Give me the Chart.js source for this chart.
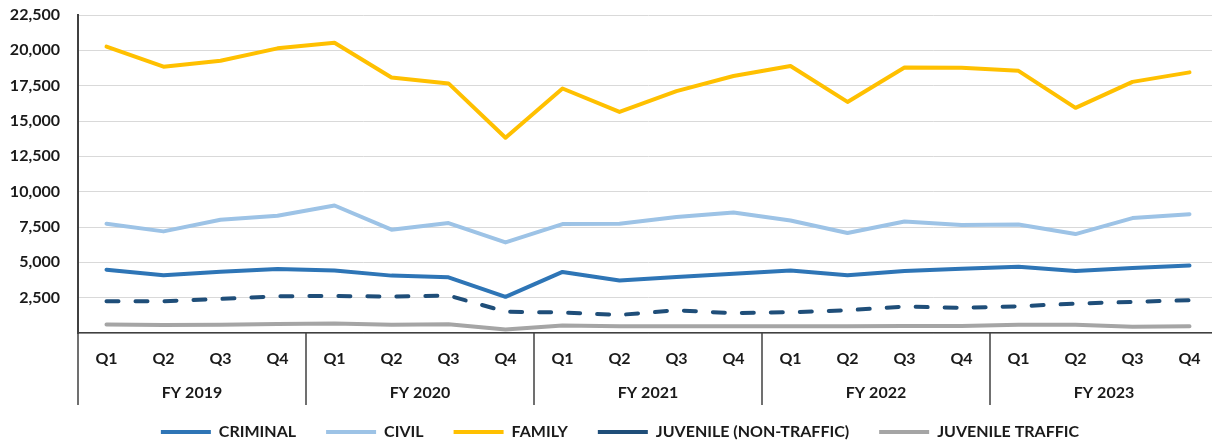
<!DOCTYPE html>
<html>
<head>
<meta charset="utf-8">
<script src="https://cdn.jsdelivr.net/npm/chart.js@4.4.0/dist/chart.umd.min.js"></script>
<style>
  html, body { margin: 0; padding: 0; background: #fff; overflow: hidden; }
  #wrap { position: relative; width: 1240px; height: 444px; }
</style>
</head>
<body>
<div id="wrap"><canvas id="my-chart"></canvas></div>
<script>
const quarters = ['Q1', 'Q2', 'Q3', 'Q4'];
const fiscalYears = ['FY 2019', 'FY 2020', 'FY 2021', 'FY 2022', 'FY 2023'];

const criminal = [4480, 4080, 4340, 4530, 4430, 4060, 3940, 2560, 4320, 3710, 3970, 4200, 4430, 4080, 4390, 4550, 4690, 4390, 4600, 4770];
const civil = [7730, 7190, 8010, 8300, 9020, 7310, 7780, 6410, 7710, 7730, 8200, 8530, 7960, 7070, 7890, 7640, 7680, 7000, 8130, 8410];
const family = [20260, 18840, 19260, 20140, 20540, 18080, 17660, 13820, 17300, 15640, 17110, 18180, 18890, 16350, 18790, 18770, 18550, 15930, 17770, 18440];
const juvenileNonTraffic = [2250, 2250, 2410, 2600, 2620, 2580, 2650, 1510, 1450, 1280, 1610, 1400, 1470, 1610, 1870, 1780, 1890, 2080, 2200, 2320];
const juvenileTraffic = [600, 560, 580, 640, 680, 580, 620, 250, 530, 480, 480, 480, 480, 480, 500, 500, 580, 580, 440, 480];

// one Q1..Q4 run per fiscal year
const quarterLabels = [];
fiscalYears.forEach(() => quarterLabels.push(...quarters));

// vertical dividers between fiscal years, running through both label rows
const yearDividers = {
   id: 'yearDividers',
   afterDraw(chart) {
      const x = chart.scales.x;
      const x2 = chart.scales.x2;
      const step = x.getPixelForValue(1) - x.getPixelForValue(0);
      const ctx = chart.ctx;
      ctx.save();
      ctx.strokeStyle = '#404040';
      ctx.lineWidth = 1.5;
      for (let i = 0; i <= quarterLabels.length; i += quarters.length) {
         const px = Math.round(x.getPixelForValue(0) - step / 2 + i * step);
         ctx.beginPath();
         ctx.moveTo(px, x.top);
         ctx.lineTo(px, x2.bottom);
         ctx.stroke();
      }
      ctx.restore();
   }
};

// keep the legend short so the plot gets the height, then nudge it up/right
const legendSpot = {
   id: 'legendSpot',
   afterInit(chart) {
      const legend = chart.legend;
      const fit = legend.fit;
      legend.fit = function () {
         fit.call(this);
         this.height = 39;
      };
   },
   afterLayout(chart) {
      const legend = chart.legend;
      legend.top -= 11;
      legend.left += 11;
      legend.right += 11;
   }
};

function line(label, data, color, dash) {
   return {
      label: label,
      data: data,
      borderColor: color,
      backgroundColor: color,
      borderWidth: 4,
      borderDash: dash || [],
      borderCapStyle: 'round',
      borderJoinStyle: 'round',
      pointRadius: 0,
      pointHoverRadius: 0,
      tension: 0,
      fill: false
   };
}

function printTheChart() {
   Chart.defaults.font.family = 'Lato';
   Chart.defaults.font.size = 16;
   Chart.defaults.font.weight = 'bold';
   Chart.defaults.color = '#1a1a1a';

   const ctx = document.getElementById('my-chart').getContext('2d');

   const chart = new Chart(ctx, {
      type: 'line',
      data: {
         labels: quarterLabels,
         datasets: [
            line('CRIMINAL', criminal, '#2e75b6'),
            line('CIVIL', civil, '#9dc3e6'),
            line('FAMILY', family, '#ffc000'),
            line('JUVENILE (NON-TRAFFIC)', juvenileNonTraffic, '#1f4e79', [12, 17]),
            line('JUVENILE TRAFFIC', juvenileTraffic, '#a5a5a5')
         ]
      },
      options: {
         responsive: true,
         maintainAspectRatio: false,
         animation: false,
         layout: { padding: { top: 15, left: 0, right: 22, bottom: 0 } },
         plugins: {
            tooltip: { enabled: false },
            legend: {
               position: 'bottom',
               labels: {
                  usePointStyle: true,
                  pointStyle: 'line',
                  pointStyleWidth: 50,
                  padding: 30,
                  font: { size: 16, weight: 'bold' }
               }
            }
         },
         scales: {
            y: {
               min: 0,
               max: 22500,
               ticks: {
                  stepSize: 2500,
                  padding: 18,
                  callback: v => v === 0 ? '' : v.toLocaleString('en-US')
               },
               grid: { color: '#d9d9d9', drawTicks: false },
               border: { color: '#404040', width: 2 },
               afterFit: s => {
                  s.width = 78;
                  s.paddingTop = 0;
                  s.paddingBottom = 0;
               }
            },
            x: {
               type: 'category',
               labels: quarterLabels,
               offset: true,
               grid: { display: false, drawTicks: false },
               border: { color: '#404040', width: 1.5 },
               ticks: { padding: 16, maxRotation: 0, autoSkip: false },
               afterFit: s => { s.height = 35; }
            },
            x2: {
               type: 'category',
               labels: fiscalYears,
               position: 'bottom',
               offset: true,
               grid: { display: false, drawTicks: false },
               border: { display: false },
               ticks: { padding: 15, maxRotation: 0, autoSkip: false },
               afterFit: s => { s.height = 37; }
            }
         }
      },
      plugins: [yearDividers, legendSpot]
   }); // closes chart = new Chart()
} // closes printTheChart()

document.fonts.load('bold 16px Lato').then(printTheChart, printTheChart);
</script>
</body>
</html>
